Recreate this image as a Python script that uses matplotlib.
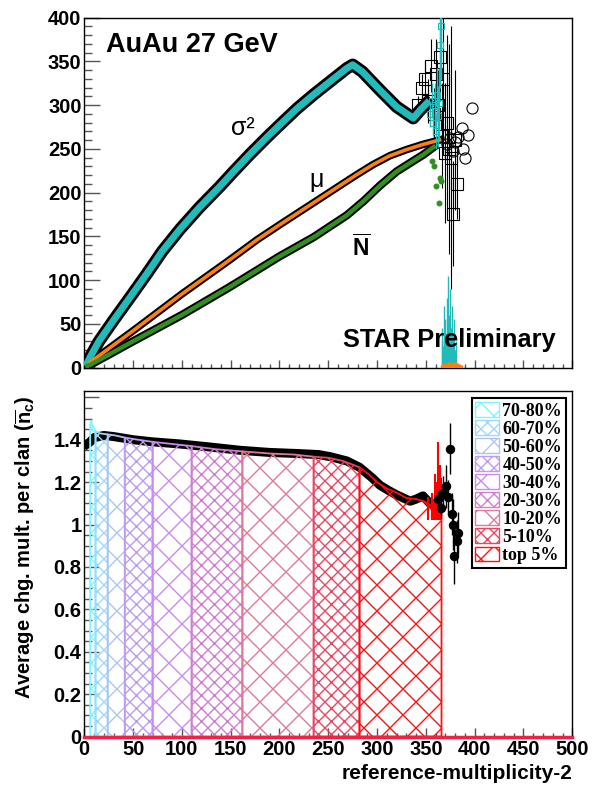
import matplotlib
matplotlib.use('Agg')
import matplotlib.pyplot as plt
from matplotlib.patches import Patch
from matplotlib.ticker import MultipleLocator, FixedLocator, FuncFormatter

DPI = 78
K = 100.0 / DPI  # keeps sizes in "100-dpi points" while hatch tiles get finer

plt.rcParams['font.family'] = ['Liberation Sans', 'DejaVu Sans']
plt.rcParams['font.weight'] = 'bold'
plt.rcParams['hatch.linewidth'] = 1.0 * K
plt.rcParams['mathtext.fontset'] = 'custom'
plt.rcParams['mathtext.rm'] = 'Liberation Sans'
plt.rcParams['mathtext.bf'] = 'Liberation Sans:bold'
plt.rcParams['mathtext.it'] = 'Liberation Sans:italic'

# ---------------- top panel data ----------------
sig_x = [3, 6, 15, 30, 50, 64, 80, 98, 118, 139, 153, 170, 187, 200, 218, 235, 252, 269, 275, 285, 303, 320, 337, 344, 351]
sig_y = [5, 12, 30, 54, 85, 107, 133, 158, 183, 207, 224, 244, 263, 277, 296, 312, 327, 342, 346, 338, 317, 298, 285, 294, 302]

mu_x = [3, 6, 50, 100, 149, 177, 200, 211, 240, 262, 280, 296, 313, 330, 347, 364]
mu_y = [3, 6, 42, 84, 123, 146, 163, 171, 192, 208, 221, 232, 242, 249, 255, 260]

nb_x = [3, 6, 50, 100, 149, 200, 235, 269, 286, 303, 320, 337, 347, 358]
nb_y = [2, 3, 30, 60, 92, 127, 149, 174, 190, 208, 224, 236, 243, 252]

sig_tail_x = [354, 356, 357, 359, 360, 361, 362, 363, 364, 365]
sig_tail_y = [290, 305, 280, 300, 270, 312, 287, 302, 369, 390]
sig_tail_err = [15, 20, 15, 25, 20, 30, 35, 40, 50, 60]

blk_sq_x = [342, 346, 349, 352, 355, 358, 360, 362, 364, 366, 368, 370, 372, 374, 376, 378, 380, 381.5]
blk_sq_y = [300, 320, 330, 305, 345, 290, 335, 300, 355, 265, 330, 245, 280, 250, 240, 176, 260, 210]
blk_sq_err = [10, 15, 20, 25, 30, 30, 40, 40, 50, 60, 70, 80, 100, 120, 150, 60, 80, 40]

circ_x = [372, 375, 378, 380, 383, 386.6, 388, 390, 393.4, 397]
circ_y = [255, 262, 248, 258, 264, 273.6, 250, 239, 266, 296.5]

green_sc_x = [356, 358, 360, 363, 364.5, 365.5]
green_sc_y = [236, 230, 207, 188, 217, 213]

cyan_sp_x = [366, 367, 368, 369, 370, 371, 372, 373, 374, 375, 376, 377, 378, 379, 380, 381]
cyan_sp_h = [30, 45, 25, 70, 55, 40, 80, 105, 60, 90, 45, 70, 35, 55, 20, 30]

orange_sp_x = [366, 368, 370, 372, 374, 376, 378, 380, 382, 384, 386]
orange_sp_h = [3, 4, 5, 4, 6, 5, 4, 6, 5, 4, 3]

# ---------------- bottom panel data ----------------
ratio_x = [3, 6, 10, 20, 30, 50, 70, 98, 130, 160, 190, 218, 240, 252, 269, 282, 295, 303, 312, 320, 334, 340, 347, 354, 360]
ratio_y = [1.38, 1.39, 1.41, 1.42, 1.415, 1.40, 1.39, 1.38, 1.365, 1.35, 1.34, 1.335, 1.33, 1.32, 1.30, 1.27, 1.22, 1.185, 1.16, 1.14, 1.11, 1.12, 1.135, 1.10, 1.09]

tail_x = [362, 365, 368, 371, 373, 374.7, 376.4, 378, 379, 381.6, 383]
tail_y = [1.12, 1.08, 1.15, 1.18, 1.13, 1.357, 1.05, 1.00, 0.85, 0.92, 0.96]
tail_err = [0.04, 0.05, 0.08, 0.10, 0.08, 0.12, 0.10, 0.12, 0.13, 0.10, 0.10]

hist_x = [6, 7, 8, 11.5, 16, 24, 32, 41.5, 55, 70, 90, 110, 135, 162, 190, 215, 235, 250, 265, 282, 292, 300, 310, 320, 330, 340, 348, 355, 366]
hist_y = [1.47, 1.49, 1.47, 1.44, 1.43, 1.425, 1.42, 1.41, 1.40, 1.39, 1.38, 1.37, 1.355, 1.345, 1.335, 1.33, 1.32, 1.315, 1.30, 1.27, 1.235, 1.20, 1.17, 1.15, 1.125, 1.12, 1.11, 1.09, 1.10]

spike_x = [352, 356, 358, 359.5, 361, 362.5, 364, 365.5]
spike_top = [1.13, 1.15, 1.12, 1.24, 1.20, 1.39, 1.28, 1.22]

cent_bounds = [6, 11.5, 24, 41.5, 70, 110, 162, 235, 282, 366]
cent_labels = ['70-80%', '60-70%', '50-60%', '40-50%', '30-40%', '20-30%', '10-20%', '5-10%', 'top 5%']
cent_colors = ['#80f4ff', '#9fd8f8', '#b0c4f4', '#bb9cf0', '#c98cec', '#d07fd0', '#e07898', '#e84662', '#ff1010']
cent_hatch = ['x', 'xx', 'x', 'xx', 'x', 'xx', 'x', 'xx', 'x']

CYAN = '#22bbbb'
ORANGE = '#ff7f10'
GREEN = '#2f8f1f'
TICKC = '#555555'

fig = plt.figure(figsize=(592 / DPI, 790 / DPI), dpi=DPI)
ax1 = fig.add_axes([0.1424, 0.5348, 0.8243, 0.4430])
ax2 = fig.add_axes([0.1424, 0.0677, 0.8243, 0.4374])

# ---------------- top panel ----------------
ax1.plot(sig_x, sig_y, color='black', lw=9 * K, zorder=3, solid_joinstyle='round')
ax1.plot(sig_x, sig_y, color=CYAN, lw=5 * K, zorder=4, solid_joinstyle='round')
ax1.plot(mu_x, mu_y, color='black', lw=5.5 * K, zorder=3, solid_joinstyle='round')
ax1.plot(mu_x, mu_y, color=ORANGE, lw=2.6 * K, zorder=4, solid_joinstyle='round')
ax1.plot(nb_x, nb_y, color='black', lw=6 * K, zorder=3, solid_joinstyle='round')
ax1.plot(nb_x, nb_y, color=GREEN, lw=3.2 * K, zorder=4, solid_joinstyle='round')

ax1.errorbar(blk_sq_x, blk_sq_y, yerr=blk_sq_err, fmt='s', mfc='none', mec='black',
             ecolor='black', ms=8 * K, mew=0.8 * K, elinewidth=0.8 * K, zorder=2)
ax1.errorbar(sig_tail_x, sig_tail_y, yerr=sig_tail_err, fmt='s', mfc='none', mec=CYAN,
             ecolor=CYAN, ms=4 * K, mew=0.8 * K, elinewidth=1.0 * K, zorder=4)
ax1.plot(circ_x, circ_y, 'o', mfc='none', mec='black', ms=8 * K, mew=0.8 * K, zorder=3)
ax1.plot(green_sc_x, green_sc_y, 'o', color=GREEN, ms=3.5 * K, zorder=5)
ax1.vlines(cyan_sp_x, 0, cyan_sp_h, color=CYAN, lw=1.0 * K, zorder=3)
ax1.vlines(orange_sp_x, 0, orange_sp_h, color=ORANGE, lw=2.5 * K, zorder=4)

ax1.set_xlim(0, 500)
ax1.set_ylim(0, 400)
ax1.xaxis.set_major_locator(MultipleLocator(50))
ax1.xaxis.set_minor_locator(MultipleLocator(10))
ax1.yaxis.set_major_locator(MultipleLocator(50))
ax1.yaxis.set_minor_locator(MultipleLocator(10))
ax1.tick_params(axis='x', which='major', direction='in', length=5.8 * K, width=K, color=TICKC, labelbottom=False)
ax1.tick_params(axis='x', which='minor', direction='in', length=2.9 * K, width=K, color=TICKC)
ax1.tick_params(axis='y', which='major', direction='in', length=11.5 * K, width=K, color=TICKC,
                pad=2 * K, labelsize=14.5 * K)
ax1.tick_params(axis='y', which='minor', direction='in', length=5.8 * K, width=K, color=TICKC)

ax1.text(0.0445, 0.901, 'AuAu 27 GeV', transform=ax1.transAxes, fontsize=19.5 * K, fontweight='bold', va='baseline')
ax1.text(0.53, 0.059, 'STAR Preliminary', transform=ax1.transAxes, fontsize=18.3 * K, fontweight='bold', va='baseline')
ax1.text(0.325, 0.684, 'σ²', transform=ax1.transAxes, fontsize=18 * K, fontweight='normal', ha='center', va='center')
ax1.text(0.475, 0.536, 'μ', transform=ax1.transAxes, fontsize=18 * K, fontweight='normal', ha='center', va='center')
ax1.text(0.567, 0.34, r'$\overline{\mathbf{N}}$', transform=ax1.transAxes, fontsize=16.5 * K, ha='center', va='center')

# ---------------- bottom panel ----------------
ax2.plot(ratio_x, ratio_y, color='black', lw=6.5 * K, zorder=2, solid_joinstyle='round')
for lo, hi, col, h in zip(cent_bounds[:-1], cent_bounds[1:], cent_colors, cent_hatch):
    xs = [x for x in hist_x if lo <= x <= hi]
    ys = [y for x, y in zip(hist_x, hist_y) if lo <= x <= hi]
    ax2.fill_between(xs, 0, ys, facecolor='none', edgecolor=col, hatch=h, lw=1.3 * K, zorder=3)
ax2.vlines(spike_x, 1.02, spike_top, color='red', lw=1.5 * K, zorder=4)
ax2.errorbar(tail_x, tail_y, yerr=tail_err, fmt='o', color='black', ms=6 * K, elinewidth=1.0 * K, zorder=5)
ax2.axhline(0, color='#ee2244', lw=2.5 * K, zorder=6, clip_on=False)

ax2.set_xlim(0, 500)
ax2.set_ylim(0, 1.63)
ax2.xaxis.set_major_locator(MultipleLocator(50))
ax2.xaxis.set_minor_locator(MultipleLocator(10))
ax2.yaxis.set_major_locator(FixedLocator([0, 0.2, 0.4, 0.6, 0.8, 1.0, 1.2, 1.4, 1.6]))
ax2.yaxis.set_minor_locator(MultipleLocator(0.05))
ax2.yaxis.set_major_formatter(FuncFormatter(lambda v, p: '' if v > 1.5 else '%g' % round(v, 2)))
ax2.tick_params(axis='x', which='major', direction='in', length=6.5 * K, width=K, color=TICKC,
                pad=2.5 * K, labelsize=14.5 * K)
ax2.tick_params(axis='x', which='minor', direction='in', length=3.2 * K, width=K, color=TICKC)
ax2.tick_params(axis='y', which='major', direction='in', length=11 * K, width=K, color=TICKC,
                pad=2 * K, labelsize=14.5 * K)
ax2.tick_params(axis='y', which='minor', direction='in', length=5.5 * K, width=K, color=TICKC)

ax2.text(-0.1215, 0.988, r'Average chg. mult. per clan ($\mathbf{\overline{n}_c}$)', transform=ax2.transAxes,
         rotation=90, ha='center', va='top', fontsize=14.5 * K, fontweight='bold')
ax2.text(1.0, -0.08, 'reference-multiplicity-2', transform=ax2.transAxes, ha='right', va='top',
         fontsize=15 * K, fontweight='bold')

handles = [Patch(facecolor='white', edgecolor=c, hatch=h, lw=K) for c, h in zip(cent_colors, cent_hatch)]
leg = ax2.legend(handles, cent_labels, loc='upper left', bbox_to_anchor=(0.794, 0.979),
                 prop={'family': 'Liberation Serif', 'weight': 'bold', 'size': 13 * K},
                 frameon=True, fancybox=False, edgecolor='black', framealpha=1,
                 borderpad=0.2, labelspacing=0.02, handlelength=1.3, handleheight=0.9,
                 handletextpad=0.2, borderaxespad=0)
leg.get_frame().set_linewidth(1.5 * K)

for ax in (ax1, ax2):
    for s in ax.spines.values():
        s.set_linewidth(1.0 * K)

fig.savefig('out.png', dpi=DPI)
